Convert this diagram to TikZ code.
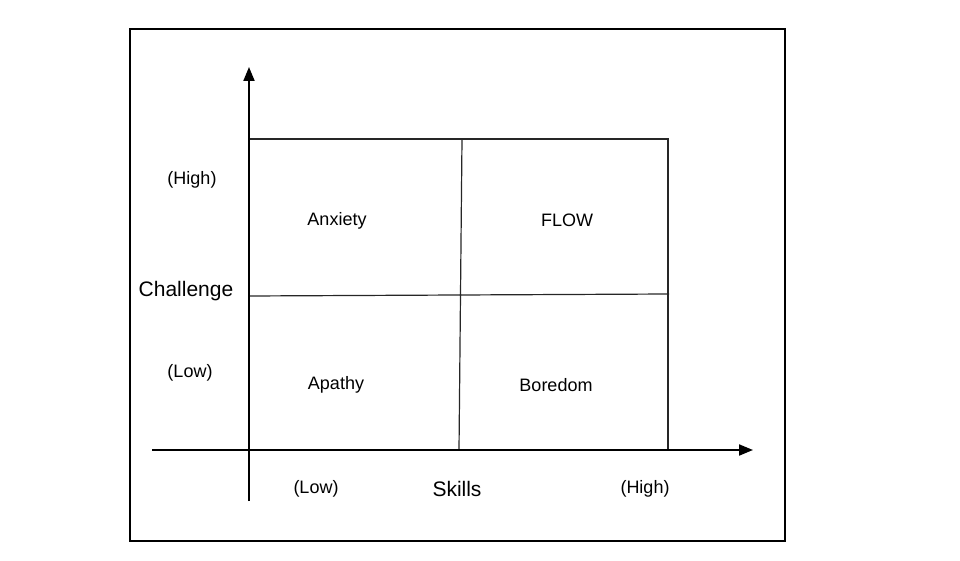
\documentclass[tikz,border=0pt]{standalone}
\usepackage{fontspec}
\setmainfont{Liberation Sans}
\usetikzlibrary{arrows.meta}
\newcommand{\sizequad}{\fontsize{18}{20}\selectfont}
\newcommand{\sizeaxis}{\fontsize{21}{24}\selectfont}
\tikzset{
    frame/.style={draw, line width=2pt},
    axis/.style={line width=2pt, -{Triangle[length=14pt, width=11pt]}},
    cell/.style={draw=black!85, line width=1.2pt},
    quad/.style={font=\sizequad},
    level/.style={font=\sizequad},
    axislabel/.style={font=\sizeaxis}
}
\begin{document}
\begin{tikzpicture}[x=1pt, y=-1pt]

      \useasboundingbox (0,0) rectangle (960,561);
      \draw[frame] (130,29) rectangle (785,541);

      % axes
      \path
          (249,501) coordinate (y-start)
          (249,67)  coordinate (y-end)
          (152,450) coordinate (x-start)
          (753,450) coordinate (x-end);

      % grid
      \path
          (249,139) coordinate (g-nw)
          (668,139) coordinate (g-ne)
          (668,450) coordinate (g-se)
          (249,450) coordinate (g-sw)
          (462,139) coordinate (g-n)
          (459,450) coordinate (g-s)
          (249,296) coordinate (g-w)
          (669,294) coordinate (g-e);

      \draw[cell] (g-sw) -- (g-nw) -- (g-ne) -- (g-se);
      \draw[cell] (g-n) -- (g-s) (g-w) -- (g-e);

      \draw[axis] (y-start) -- (y-end);
      \draw[axis] (x-start) -- (x-end);

      \path
          (337,221) node[quad] (anxiety) {Anxiety}
          (567,220) node[quad] (flow) {FLOW}
          (336,385) node[quad] (apathy) {Apathy}
          (556,385) node[quad] (boredom) {Boredom};

      \path
          (192,180) node[level] (chal-high) {(High)}
          (186,291) node[axislabel] (challenge) {Challenge}
          (190,373) node[level] (chal-low) {(Low)}
          (316,489) node[level] (skill-low) {(Low)}
          (457,489) node[axislabel] (skills) {Skills}
          (645,489) node[level] (skill-high) {(High)};
    \end{tikzpicture}
\end{document}
